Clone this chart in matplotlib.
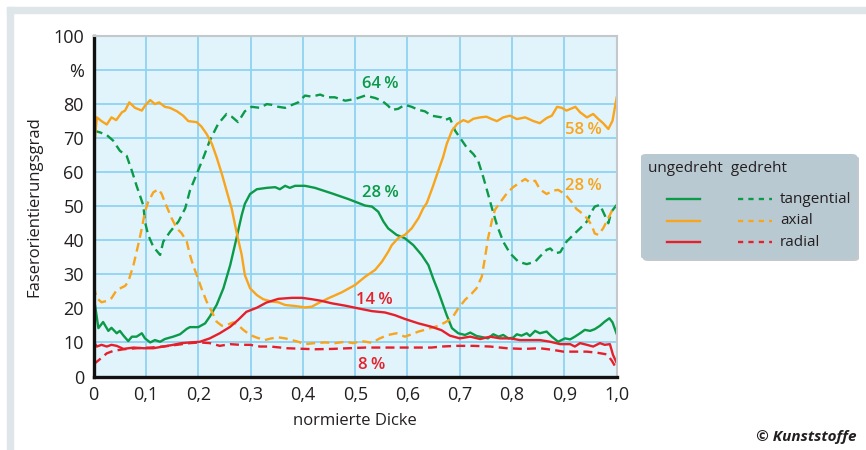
import matplotlib
matplotlib.use("Agg")
import matplotlib.pyplot as plt
from matplotlib.lines import Line2D
from matplotlib.patches import FancyBboxPatch, Rectangle

plt.rcParams['font.family'] = ['Open Sans', 'DejaVu Sans']

# ungedreht tangential (green solid)
gs_x = [0, 0.0025, 0.009, 0.018, 0.028, 0.034, 0.044, 0.05, 0.057, 0.066, 0.073, 0.082, 0.092, 0.098,
        0.108, 0.117, 0.127, 0.136, 0.152, 0.165, 0.178, 0.184, 0.2, 0.213, 0.222, 0.235, 0.248, 0.261,
        0.273, 0.283, 0.289, 0.299, 0.312, 0.331, 0.347, 0.356, 0.366, 0.375, 0.385, 0.404, 0.423, 0.455,
        0.487, 0.519, 0.532, 0.544, 0.554, 0.563, 0.579, 0.595, 0.611, 0.627, 0.64, 0.649, 0.659, 0.668,
        0.675, 0.685, 0.697, 0.71, 0.72, 0.732, 0.745, 0.754, 0.764, 0.774, 0.783, 0.793, 0.802, 0.809,
        0.818, 0.828, 0.834, 0.844, 0.853, 0.866, 0.876, 0.888, 0.901, 0.911, 0.92, 0.93, 0.939, 0.949,
        0.958, 0.968, 0.977, 0.986, 0.992, 1.0]
gs_y = [22, 21, 14.2, 16, 13.4, 14.3, 12.7, 13.4, 12, 10.4, 11.7, 11.7, 12.7, 11.2,
        10, 10.7, 10.2, 11, 11.7, 12.4, 14, 14.5, 14.5, 15.6, 17.6, 21, 25.9, 32.7,
        40.6, 47.4, 50.7, 53.6, 55, 55.4, 55.6, 55, 56, 55.4, 56, 56, 55.4, 53.8,
        52.1, 50.2, 49.9, 48.4, 45.5, 43.5, 41.6, 40.6, 38.6, 35.7, 32.7, 28.8, 24.9, 21,
        18, 14.2, 12.7, 12.2, 12.9, 11.9, 11.5, 11.2, 12.4, 11.7, 12.2, 11.2, 11.4, 12.4,
        12, 12.7, 11.9, 13.4, 12.7, 13.2, 11.7, 10.2, 11.2, 10.9, 11.7, 12.7, 13.7, 13.4,
        13.9, 14.9, 16.1, 17.1, 15.9, 12.5]

# gedreht tangential (green dashed)
gd_x = [0, 0.012, 0.025, 0.037, 0.05, 0.063, 0.073, 0.082, 0.095, 0.098, 0.104, 0.114, 0.127, 0.133,
        0.146, 0.162, 0.175, 0.184, 0.197, 0.21, 0.222, 0.238, 0.254, 0.264, 0.276, 0.289, 0.302, 0.318,
        0.331, 0.34, 0.353, 0.366, 0.375, 0.391, 0.404, 0.417, 0.433, 0.446, 0.461, 0.481, 0.5, 0.519,
        0.538, 0.551, 0.563, 0.57, 0.582, 0.595, 0.608, 0.621, 0.633, 0.646, 0.665, 0.672, 0.681, 0.691,
        0.7, 0.713, 0.726, 0.735, 0.745, 0.754, 0.761, 0.771, 0.783, 0.796, 0.812, 0.828, 0.844, 0.853,
        0.866, 0.873, 0.882, 0.892, 0.904, 0.917, 0.93, 0.943, 0.952, 0.958, 0.968, 0.977, 0.984, 0.99, 1.0]
gd_y = [72.2, 71.7, 70.9, 69.3, 66.3, 64.8, 60.4, 56, 50.2, 45.5, 41.6, 38.1, 35.7, 39.6,
        42.5, 45.5, 49.4, 54.6, 59.5, 64.4, 69.3, 74.2, 77.1, 76.3, 74.7, 77.9, 79.2, 78.9,
        80, 79.8, 79.2, 78.9, 79.5, 80.5, 82.5, 82.2, 82.8, 82, 82, 81, 81.5, 82.5,
        81.8, 81, 79.5, 78.3, 78.6, 79.8, 79.2, 78.3, 77.9, 76.6, 76.1, 75.3, 75.9, 72.2,
        70.2, 67.3, 65.3, 63.4, 58.5, 53.6, 49.7, 44.5, 39.6, 36.2, 33.7, 33, 33.7, 35.2,
        37.2, 37.6, 36.2, 36.5, 39.6, 41.6, 43.5, 45.5, 48.4, 49.9, 50.4, 47.4, 45, 48.4, 50.4]

# ungedreht axial (orange solid)
os_x = [0, 0.006, 0.015, 0.025, 0.034, 0.043, 0.054, 0.06, 0.068, 0.079, 0.092, 0.098, 0.108, 0.117,
        0.125, 0.136, 0.146, 0.159, 0.171, 0.181, 0.197, 0.206, 0.216, 0.226, 0.235, 0.245, 0.254, 0.264,
        0.273, 0.283, 0.289, 0.299, 0.312, 0.324, 0.34, 0.353, 0.366, 0.385, 0.404, 0.417, 0.429, 0.449,
        0.474, 0.5, 0.519, 0.538, 0.551, 0.563, 0.57, 0.582, 0.595, 0.608, 0.621, 0.63, 0.637, 0.649,
        0.659, 0.668, 0.675, 0.685, 0.695, 0.707, 0.716, 0.726, 0.739, 0.751, 0.761, 0.771, 0.783, 0.796,
        0.809, 0.825, 0.841, 0.853, 0.866, 0.876, 0.886, 0.895, 0.904, 0.921, 0.93, 0.943, 0.955, 0.965,
        0.974, 0.984, 0.992, 1.0]
os_y = [66, 76.1, 75, 74, 76.1, 75.3, 77.6, 78.1, 80.5, 78.9, 78.1, 79.5, 81.2, 80,
        80.5, 79.2, 78.9, 77.9, 76.6, 75, 74.7, 73.4, 71.2, 68.3, 64.4, 59.5, 54.6, 49.2,
        42.5, 35.7, 29.8, 25.9, 23.9, 22.7, 22, 21.8, 21, 20.7, 20.3, 20.5, 21.5, 23,
        24.7, 26.9, 29.3, 31.3, 33.7, 36.6, 38.6, 40.6, 41.6, 43.5, 46.5, 49.4, 51, 56,
        60.5, 64.4, 68.3, 72.2, 74.2, 75.3, 74.7, 75.7, 76.1, 76.3, 75.6, 75, 76.1, 76.6,
        75.6, 76.1, 75, 74.4, 75.9, 76.6, 79.2, 78.9, 78.1, 79.2, 77.6, 76.1, 77.1, 75.6,
        74.4, 72.7, 75.1, 82]

# gedreht axial (orange dashed)
od_x = [0, 0.006, 0.015, 0.025, 0.034, 0.044, 0.06, 0.066, 0.076, 0.085, 0.092, 0.098, 0.104, 0.114,
        0.124, 0.13, 0.136, 0.141, 0.149, 0.159, 0.168, 0.178, 0.184, 0.19, 0.197, 0.206, 0.216, 0.226,
        0.235, 0.245, 0.254, 0.267, 0.276, 0.286, 0.299, 0.312, 0.327, 0.34, 0.353, 0.366, 0.379, 0.391,
        0.404, 0.423, 0.442, 0.461, 0.481, 0.496, 0.512, 0.532, 0.547, 0.563, 0.579, 0.595, 0.608, 0.621,
        0.633, 0.646, 0.659, 0.672, 0.685, 0.697, 0.71, 0.723, 0.732, 0.742, 0.748, 0.754, 0.761, 0.767,
        0.777, 0.79, 0.802, 0.815, 0.825, 0.834, 0.844, 0.853, 0.866, 0.879, 0.888, 0.901, 0.914, 0.923,
        0.93, 0.943, 0.952, 0.958, 0.965, 0.974, 0.984, 0.99, 1.0]
od_y = [26.5, 23, 21.8, 22.2, 23, 25.4, 26.6, 27.8, 32.7, 38.6, 43.5, 48.4, 51.2, 54.1,
        55, 53.6, 51.2, 49.4, 46.5, 43.5, 42.1, 39.6, 35.7, 32.7, 29.8, 25.9, 22, 19,
        16.1, 14.9, 15.1, 15.9, 15.1, 13.7, 12.2, 11.4, 10.7, 11.2, 11.5, 11.2, 10.7, 10.2,
        9.5, 9.8, 10, 9.8, 10.2, 9.8, 10.4, 9.9, 11.2, 12.2, 12.7, 11.7, 12.4, 13.2,
        13.7, 14.3, 14.9, 15.9, 17.1, 20, 22.5, 24.4, 25.9, 29.3, 34.7, 40.6, 45.5, 48.9,
        51.1, 53.8, 55.6, 57, 58, 57, 57.5, 55, 53.6, 54.6, 54.8, 53.6, 51.2, 49.2,
        48.4, 46.5, 44.5, 42, 41.6, 43.5, 46.5, 48.4, 49.9]

# ungedreht radial (red solid)
rs_x = [0, 0.006, 0.015, 0.025, 0.034, 0.044, 0.057, 0.076, 0.095, 0.114, 0.133, 0.152, 0.168, 0.184,
        0.203, 0.222, 0.241, 0.261, 0.276, 0.292, 0.312, 0.33, 0.353, 0.379, 0.398, 0.417, 0.436, 0.455,
        0.481, 0.506, 0.532, 0.557, 0.576, 0.595, 0.621, 0.646, 0.665, 0.681, 0.7, 0.72, 0.739, 0.758,
        0.777, 0.796, 0.815, 0.834, 0.853, 0.873, 0.892, 0.911, 0.92, 0.93, 0.943, 0.955, 0.968, 0.977,
        0.987, 0.993, 1.0]
rs_y = [10.2, 8.8, 9.3, 8.8, 9.3, 9, 8.1, 8.5, 8.3, 8.3, 8.8, 9.3, 9.8, 10,
        10.2, 11.2, 12.7, 14.6, 16.6, 19, 20.2, 21.7, 22.8, 23.1, 23.1, 22.7, 22.2, 21.5,
        20.8, 20, 19.2, 18.8, 18, 16.9, 15.6, 14.6, 13.6, 12, 11.2, 11.7, 11, 11.7,
        11.2, 11.2, 10.7, 10.7, 10.7, 10.2, 9.5, 9.5, 8.8, 9.8, 9.3, 8.8, 9.8, 9.3,
        9.5, 6.3, 4]

# gedreht radial (red dashed)
rd_x = [0, 0.012, 0.025, 0.037, 0.057, 0.082, 0.108, 0.133, 0.159, 0.184, 0.203, 0.222, 0.241, 0.261,
        0.28, 0.299, 0.318, 0.338, 0.37, 0.423, 0.455, 0.487, 0.519, 0.551, 0.582, 0.614, 0.646, 0.665,
        0.694, 0.726, 0.758, 0.79, 0.822, 0.853, 0.879, 0.898, 0.917, 0.943, 0.962, 0.981, 0.99, 1.0]
rd_y = [3.6, 5.1, 6.8, 7.5, 8, 8.3, 8.5, 8.8, 9.3, 9.8, 10, 9.8, 9, 9.5,
        9.3, 9.3, 8.8, 8.8, 8.3, 8, 8.1, 8.3, 8.5, 8.5, 8.5, 8.5, 8.5, 8.8,
        9, 9, 8.8, 8.3, 8.1, 8.3, 7.8, 7.3, 7.3, 7.3, 7, 6.5, 4.8, 2.2]

x_ticks = [0, 0.1, 0.2, 0.3, 0.4, 0.5, 0.6, 0.7, 0.8, 0.9, 1.0]
x_ticklabels = ['0', '0,1', '0,2', '0,3', '0,4', '0,5', '0,6', '0,7', '0,8', '0,9', '1,0']
y_ticks = [0, 10, 20, 30, 40, 50, 60, 70, 80, 90, 100]
y_ticklabels = ['0', '10', '20', '30', '40', '50', '60', '70', '80', '%', '100']

GREEN = '#0a9a48'
ORANGE = '#f8a51c'
RED = '#e5202b'
DASH = (3.8, 2.2)

fig = plt.figure(figsize=(8.66, 4.5), dpi=100)
fig.patches.append(Rectangle((7 / 866, 1 - 13 / 450), 1, 6 / 450, transform=fig.transFigure,
                             color='#dfe6ea', zorder=0))
fig.patches.append(Rectangle((7 / 866, 0), 6 / 866, 1 - 7 / 450, transform=fig.transFigure,
                             color='#dfe6ea', zorder=0))

ax = fig.add_axes([93.7 / 866, 1 - 376.5 / 450, 523 / 866, 340.5 / 450])
ax.set_facecolor('#e1f3fb')
ax.grid(True, color='#8ed3f2', lw=1.3)
ax.set_axisbelow(True)

ax.plot(gs_x, gs_y, color=GREEN, lw=1.7)
ax.plot(gd_x, gd_y, color=GREEN, lw=1.7, dashes=DASH)
ax.plot(os_x, os_y, color=ORANGE, lw=1.7)
ax.plot(od_x, od_y, color=ORANGE, lw=1.7, dashes=DASH)
ax.plot(rs_x, rs_y, color=RED, lw=1.7)
ax.plot(rd_x, rd_y, color=RED, lw=1.7, dashes=DASH)

ax.set_xlim(0, 1.0)
ax.set_ylim(0, 100)
ax.set_xticks(x_ticks)
ax.set_xticklabels(x_ticklabels)
ax.set_yticks(y_ticks)
ax.set_yticklabels(y_ticklabels)
ax.tick_params(length=0, labelsize=13, colors='#231f20', pad=7)
for s in ['left', 'bottom']:
    ax.spines[s].set_color('#111111')
    ax.spines[s].set_linewidth(2.4)
for s in ['top', 'right']:
    ax.spines[s].set_color('#c4c8ca')
    ax.spines[s].set_linewidth(1.5)

ax.set_xlabel('normierte Dicke', fontsize=12, color='#231f20', labelpad=6)
ax.set_ylabel('Faserorientierungsgrad', fontsize=12, color='#231f20', labelpad=8)

lab = dict(fontsize=12, fontweight='semibold', ha='center', va='center')
ax.text(0.547, 86, '64\u2009%', color=GREEN, **lab)
ax.text(0.548, 54, '28\u2009%', color=GREEN, **lab)
ax.text(0.936, 72.5, '58\u2009%', color=ORANGE, **lab)
ax.text(0.936, 56, '28\u2009%', color=ORANGE, **lab)
ax.text(0.536, 22.5, '14\u2009%', color=RED, **lab)
ax.text(0.532, 3.5, '8\u2009%', color=RED, **lab)

# legend box
shadow = FancyBboxPatch((643 / 866, 1 - 261 / 450), 216 / 866, 105 / 450,
                        boxstyle='round,pad=0,rounding_size=0.006', transform=fig.transFigure,
                        fc='#9aa4aa', ec='none', alpha=0.6)
box = FancyBboxPatch((641 / 866, 1 - 259 / 450), 216 / 866, 105 / 450,
                     boxstyle='round,pad=0,rounding_size=0.006', transform=fig.transFigure,
                     fc='#b9c9d2', ec='none')
fig.patches.extend([shadow, box])
fig.text(648 / 866, 1 - 169 / 450, 'ungedreht  gedreht', fontsize=11, color='#231f20',
         ha='left', va='center')
rows = [('tangential', GREEN, 199), ('axial', ORANGE, 221), ('radial', RED, 242)]
for name, c, yp in rows:
    yy = 1 - yp / 450
    fig.lines.append(Line2D([667 / 866, 700 / 866], [yy, yy], transform=fig.transFigure,
                            color=c, lw=1.7))
    fig.lines.append(Line2D([738 / 866, 772 / 866], [yy, yy], transform=fig.transFigure,
                            color=c, lw=1.7, dashes=(2.2, 2.2)))
    fig.text(780 / 866, yy, name, fontsize=11, color='#231f20', ha='left', va='center')

fig.text(857 / 866, 1 - 437 / 450, '© Kunststoffe', fontsize=11, fontweight='bold',
         fontstyle='italic', color='#231f20', ha='right', va='center')

fig.savefig('out.png', dpi=100)
